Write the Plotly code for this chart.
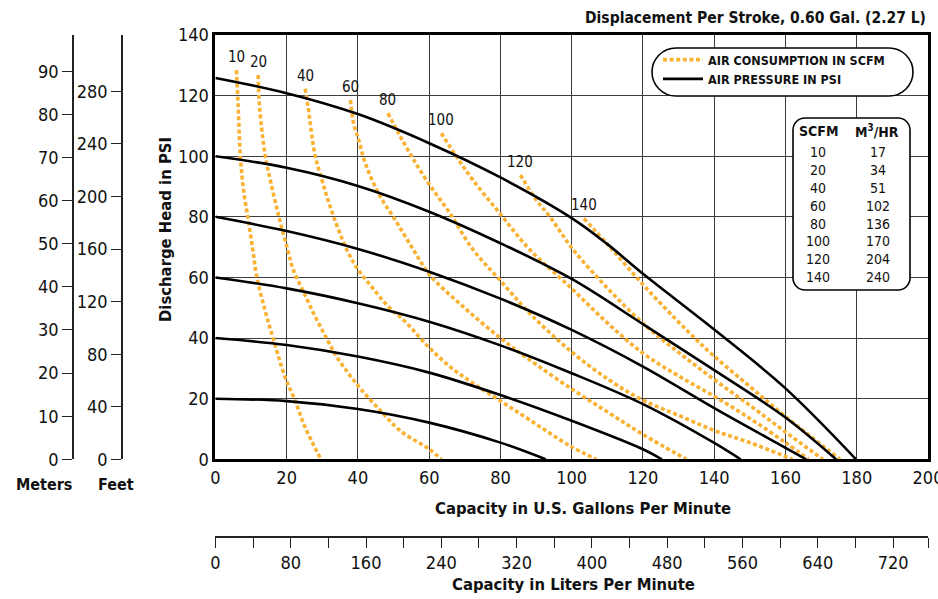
import plotly.graph_objects as go

# ---------------------------------------------------------------------------
# Data (x = U.S. GPM, y = discharge head in PSI)
# ---------------------------------------------------------------------------

# Air pressure curves (solid black)
p20_gpm = [0, 20, 40, 60, 80, 92.7]
p20_psi = [20, 19.2, 16.6, 12.1, 5.5, 0]
p40_gpm = [0, 20, 40, 60, 80, 100, 120, 125.3]
p40_psi = [40, 37.7, 33.9, 28.6, 21.2, 12.7, 3.3, 0]
p60_gpm = [0, 20, 40, 60, 80, 100, 120, 140, 147.4]
p60_psi = [60, 56.4, 51.5, 45.4, 37.6, 28.4, 18.2, 5.4, 0]
p80_gpm = [0, 20, 40, 60, 80, 100, 120, 140, 160, 165.8]
p80_psi = [80, 75.3, 69.4, 61.9, 53.0, 42.7, 30.6, 16.9, 3.8, 0]
p100_gpm = [0, 20, 40, 60, 80, 100, 120, 140, 160, 174.2]
p100_psi = [100, 96.2, 90.2, 81.7, 71.3, 59.5, 44.6, 29.4, 13.8, 0]
p125_gpm = [0, 20, 40, 60, 80, 100, 110, 120, 140, 160, 179.8]
p125_psi = [125.8, 120.8, 113.9, 104.3, 93.0, 79.6, 71.0, 61.2, 42.8, 23.4, 0]

# Air consumption curves (dotted orange)
s10_gpm = [5.9, 6.4, 7.0, 7.9, 9.3, 10.5, 11.6, 13.9, 16.2, 19.5, 22.3, 25.1, 29.6]
s10_psi = [128.4, 116.3, 100.1, 88.8, 78.4, 69.1, 60.3, 49.3, 39.9, 27.3, 19.6, 10.8, 0]
s20_gpm = [12.0, 12.4, 14.0, 15.4, 17.8, 20.3, 21.9, 24.7, 28.0, 31.2, 34.0, 37.3, 41.0,
           46.6, 52.2, 59.7, 63.5]
s20_psi = [126.8, 116.3, 100.1, 92.2, 80.1, 69.1, 62.4, 55.3, 47.1, 39.9, 33.9, 28.4, 22.9,
           15.7, 9.1, 3.6, 0]
s40_gpm = [25.2, 26.0, 28.0, 29.9, 32.2, 36.9, 40.1, 43.8, 48.5, 53.2, 59.7, 65.8, 72.3,
           79.8, 88.2, 99.4, 106.9]
s40_psi = [122.3, 116.3, 100.1, 92.2, 83.4, 69.1, 62.5, 57.0, 50.4, 45.5, 37.2, 30.6, 25.1,
           19.4, 13.0, 4.5, 0]
s60_gpm = [37.9, 38.8, 40.2, 42.1, 45.8, 50.5, 55.6, 60.2, 69.5, 79.8, 88.2, 100.4, 110.6,
           120.0, 132.2]
s60_psi = [118.5, 110.8, 105.4, 97.6, 87.7, 78.9, 69.1, 60.8, 50.4, 40.2, 32.8, 22.9, 15.2,
           8.2, 0]
s80_gpm = [48.4, 51.4, 55.1, 59.8, 65.8, 72.3, 79.8, 88.2, 99.4, 110.6, 120.0, 130, 140, 150, 162]
s80_psi = [114.2, 107.6, 99.9, 91.1, 81.2, 69.2, 59.2, 48.2, 36.0, 26.1, 19.5, 14.5, 9.5, 5.5, 0]
s100_gpm = [63.4, 67.7, 72.3, 79.8, 88.2, 99.4, 110, 120, 130, 140, 150, 160, 166.5]
s100_psi = [107.6, 99.8, 92.1, 81.2, 69.2, 57.0, 45.0, 35.0, 27.5, 20.8, 13.5, 5.5, 0]
s120_gpm = [85.6, 90.1, 93.9, 100.4, 110, 120.5, 130, 140, 150, 160, 170.5]
s120_psi = [93.8, 85.5, 80.0, 69.2, 56.5, 44.3, 35.3, 26.3, 17.8, 9.0, 0]
s140_gpm = [103.4, 110.6, 120.5, 132.2, 139.6, 150, 160, 175.3]
s140_psi = [79.5, 70.2, 57.0, 42.7, 34.4, 24.0, 14.1, 0]

# Conversion table
scfm_vals = ["10", "20", "40", "60", "80", "100", "120", "140"]
m3hr_vals = ["17", "34", "51", "102", "136", "170", "204", "240"]

# Axis ticks
gpm_ticks = list(range(0, 201, 20))
psi_ticks = list(range(0, 141, 20))
meter_ticks = list(range(0, 91, 10))
feet_ticks = list(range(0, 281, 40))
lpm_ticks = list(range(0, 721, 40))

PSI_TO_M = 0.70307
PSI_TO_FT = 2.3067
GPM_TO_LPM = 3.78541

pressure_curves = [
    (p20_gpm, p20_psi), (p40_gpm, p40_psi), (p60_gpm, p60_psi),
    (p80_gpm, p80_psi), (p100_gpm, p100_psi), (p125_gpm, p125_psi),
]
air_curves = [
    (s10_gpm, s10_psi), (s20_gpm, s20_psi), (s40_gpm, s40_psi), (s60_gpm, s60_psi),
    (s80_gpm, s80_psi), (s100_gpm, s100_psi), (s120_gpm, s120_psi), (s140_gpm, s140_psi),
]

FONT = "Liberation Sans Narrow, DejaVu Sans Condensed, Arial Narrow, sans-serif"
ORANGE = "#F9B233"
GRID = "#3c3c3c"

W, H = 938, 599
ML, MR, MT, MB = 0, 10, 35, 62
PW, PH = W - ML - MR, H - MT - MB


def px(x):
    return (x - ML) / PW


def py(y):
    return (H - MB - y) / PH


def rounded_box(x0, y0, x1, y1, r):
    """Closed path for a rounded rectangle given in page pixels."""
    k = 0.45
    pts = [
        f"M {px(x0 + r)},{py(y0)}",
        f"L {px(x1 - r)},{py(y0)}",
        f"C {px(x1 - r * k)},{py(y0)} {px(x1)},{py(y0 + r * k)} {px(x1)},{py(y0 + r)}",
        f"L {px(x1)},{py(y1 - r)}",
        f"C {px(x1)},{py(y1 - r * k)} {px(x1 - r * k)},{py(y1)} {px(x1 - r)},{py(y1)}",
        f"L {px(x0 + r)},{py(y1)}",
        f"C {px(x0 + r * k)},{py(y1)} {px(x0)},{py(y1 - r * k)} {px(x0)},{py(y1 - r)}",
        f"L {px(x0)},{py(y0 + r)}",
        f"C {px(x0)},{py(y0 + r * k)} {px(x0 + r * k)},{py(y0)} {px(x0 + r)},{py(y0)}",
        "Z",
    ]
    return " ".join(pts)


def note(x, y, text, size, **kw):
    d = dict(x=px(x), y=py(y), xref="paper", yref="paper", text=text, showarrow=False,
             xanchor="center", yanchor="middle", font=dict(size=size, color="#111"))
    d.update(kw)
    return d


fig = go.Figure()

for i, (gx, gy) in enumerate(air_curves):
    fig.add_trace(go.Scatter(
        x=gx, y=gy, mode="lines", line_shape="spline",
        line=dict(color=ORANGE, width=3.6, dash="4px,2.6px"),
        name="<b>AIR CONSUMPTION IN SCFM</b>", legendgroup="air",
        showlegend=(i == 0), hoverinfo="skip",
    ))

for i, (gx, gy) in enumerate(pressure_curves):
    fig.add_trace(go.Scatter(
        x=gx, y=gy, mode="lines", line_shape="spline",
        line=dict(color="black", width=2.6),
        name="<b>AIR PRESSURE IN PSI</b>", legendgroup="psi",
        showlegend=(i == 0), hoverinfo="skip",
    ))

# empty traces so the meters / feet / liters scales get drawn
for xa, ya in [("x", "y2"), ("x", "y3"), ("x2", "y")]:
    fig.add_trace(go.Scatter(x=[], y=[], xaxis=xa, yaxis=ya, showlegend=False,
                             hoverinfo="skip"))

annotations = []

# SCFM labels on top of each consumption curve
for lab, (gx, gy) in zip(scfm_vals, air_curves):
    annotations.append(dict(
        x=gx[0], y=gy[0], xref="x", yref="y", text=lab, showarrow=False,
        xanchor="center", yanchor="middle", yshift=13, font=dict(size=15, color="#111"),
    ))

# Conversion table
annotations.append(note(818, 131, "<b>SCFM</b>", 14))
annotations.append(note(877, 131, "<b>M<sup>3</sup>/HR</b>", 14))
for i, (a, b) in enumerate(zip(scfm_vals, m3hr_vals)):
    annotations.append(note(818, 152 + i * 17.9, a, 14))
    annotations.append(note(878, 152 + i * 17.9, b, 14))

# Titles and captions
annotations += [
    note(928, 18, "<b>Displacement Per Stroke, 0.60 Gal. (2.27 L)</b>", 15.5,
         xanchor="right"),
    note(165, 230, "<b>Discharge Head in PSI</b>", 16.5, textangle=-90),
    note(583, 508, "<b>Capacity in U.S. Gallons Per Minute</b>", 16.5),
    note(573, 584, "<b>Capacity in Liters Per Minute</b>", 16.5),
    note(44, 484, "<b>Meters</b>", 16),
    note(116, 484, "<b>Feet</b>", 16),
]

shapes = [
    dict(type="path", xref="paper", yref="paper", path=rounded_box(652, 48, 913, 96, 24),
         line=dict(color="black", width=1.6), fillcolor="white", layer="above"),
    dict(type="path", xref="paper", yref="paper", path=rounded_box(793, 118, 910, 290, 12),
         line=dict(color="black", width=1.6), fillcolor="white", layer="above"),
]

tick_font = dict(size=18, color="#111")
x_dom = [px(215.4), 1]
y_dom = [py(459.3), 1]
side_axis = dict(
    showgrid=False, zeroline=False, showline=True, linecolor="#222", linewidth=1.6,
    ticks="outside", ticklen=10, tickwidth=1.4, tickcolor="#222", tickfont=tick_font,
    automargin=False,
)

fig.update_layout(
    width=W, height=H,
    margin=dict(l=ML, r=MR, t=MT, b=MB, autoexpand=False),
    paper_bgcolor="white", plot_bgcolor="white",
    font=dict(family=FONT, color="#111"),
    xaxis=dict(
        domain=x_dom, range=[0, 200], tickvals=gpm_ticks, showgrid=True,
        gridcolor=GRID, gridwidth=1.3, zeroline=False, showline=True,
        linecolor="black", linewidth=3, mirror=True, ticks="", tickfont=tick_font,
        automargin=False, ticklabeloverflow="allow",
    ),
    yaxis=dict(
        domain=y_dom, range=[0, 140], tickvals=psi_ticks, showgrid=True,
        gridcolor=GRID, gridwidth=1.3, zeroline=False, showline=True,
        linecolor="black", linewidth=3, mirror=True, ticks="", tickfont=tick_font,
        automargin=False,
    ),
    xaxis2=dict(
        overlaying="x", anchor="free", position=0, side="bottom",
        range=[0, 200 * GPM_TO_LPM], tickvals=lpm_ticks + [200 * GPM_TO_LPM],
        ticktext=[str(v) if v % 80 == 0 else " " for v in lpm_ticks] + [" "],
        **side_axis,
    ),
    yaxis2=dict(
        overlaying="y", anchor="free", position=px(73), side="left",
        range=[0, 140 * PSI_TO_M], tickvals=meter_ticks, **side_axis,
    ),
    yaxis3=dict(
        overlaying="y", anchor="free", position=px(122), side="left",
        range=[0, 140 * PSI_TO_FT], tickvals=feet_ticks, **side_axis,
    ),
    legend=dict(
        x=px(658), y=py(45), xanchor="left", yanchor="top",
        bgcolor="rgba(0,0,0,0)", borderwidth=0, itemwidth=40,
        font=dict(size=12.5, color="#111"), tracegroupgap=0,
    ),
    annotations=annotations,
    shapes=shapes,
)

# drop the browser's default page margin so the figure sits at the window's corner
fig.write_html("out.html", config={"displayModeBar": False},
               post_script="document.body.style.margin='0px';")
